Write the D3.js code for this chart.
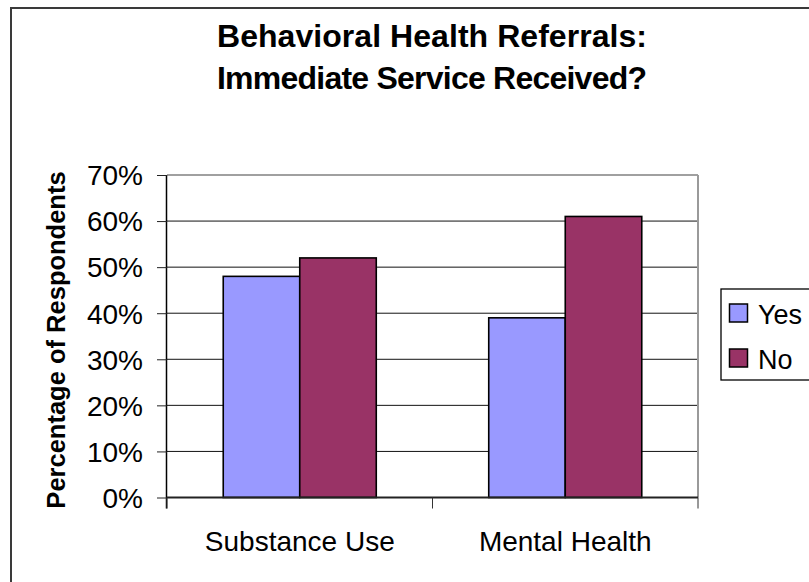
<!DOCTYPE html>
<html>
<head>
<meta charset="utf-8">
<script src="https://cdn.jsdelivr.net/npm/d3@7/dist/d3.min.js"></script>
<style>
  html, body { margin: 0; padding: 0; background: #fff; }
  svg { display: block; font-family: "Liberation Sans", Arial, sans-serif; }
</style>
</head>
<body>
<svg id="chart" width="809" height="582"></svg>
<script>
// Behavioral health referrals: share of respondents who received immediate service
const categories = ["Substance Use", "Mental Health"];
const seriesNames = ["Yes", "No"];
const yesValues = [48, 39];
const noValues = [52, 61];
const yTickValues = [0, 10, 20, 30, 40, 50, 60, 70];
const titleLines = ["Behavioral Health Referrals:", "Immediate Service Received?"];
const yAxisTitle = "Percentage of Respondents";

const colors = { Yes: "#9999FF", No: "#993366" };
const seriesValues = { Yes: yesValues, No: noValues };

const svg = d3.select("#chart");

// chart frame (right and bottom edges run past the visible area)
svg.append("rect")
  .attr("x", 11).attr("y", 8)
  .attr("width", 820).attr("height", 600)
  .attr("fill", "#fff")
  .attr("stroke", "#3a3a3a").attr("stroke-width", 2);

const plot = { left: 167, right: 698, top: 175, bottom: 497.5 };

const y = d3.scaleLinear().domain([0, 70]).range([plot.bottom, plot.top]);
const x0 = d3.scaleBand().domain(categories).range([plot.left, plot.right]).padding(0);
const x1 = d3.scaleBand().domain(seriesNames).range([0, x0.bandwidth()])
  .paddingInner(0).paddingOuter(0.735);

// gridlines
svg.append("g").selectAll("line")
  .data(yTickValues.filter(v => v > 0 && v < 70))
  .join("line")
  .attr("x1", plot.left).attr("x2", plot.right)
  .attr("y1", d => y(d)).attr("y2", d => y(d))
  .attr("stroke", "#111").attr("stroke-width", 1);

// plot area border: top and right in gray
svg.append("line")
  .attr("x1", plot.left).attr("x2", plot.right)
  .attr("y1", plot.top).attr("y2", plot.top)
  .attr("stroke", "#808080").attr("stroke-width", 1.5);
svg.append("line")
  .attr("x1", plot.right).attr("x2", plot.right)
  .attr("y1", plot.top).attr("y2", plot.bottom)
  .attr("stroke", "#9a9a9a").attr("stroke-width", 2);

// bars
const rows = [];
categories.forEach((c, i) => seriesNames.forEach(s => rows.push({ cat: c, series: s, value: seriesValues[s][i] })));
svg.append("g").selectAll("rect")
  .data(rows)
  .join("rect")
  .attr("x", d => x0(d.cat) + x1(d.series))
  .attr("y", d => y(d.value))
  .attr("width", x1.bandwidth())
  .attr("height", d => y(0) - y(d.value))
  .attr("fill", d => colors[d.series])
  .attr("stroke", "#000").attr("stroke-width", 1.6);

// y axis
const yAxis = d3.axisLeft(y).tickValues(yTickValues).tickSize(10).tickPadding(14)
  .tickFormat(d => d + "%");
const gy = svg.append("g").attr("transform", `translate(${plot.left},0)`).call(yAxis);
gy.select(".domain").attr("d", `M-0.5,${plot.top}V${plot.bottom + 11}`).attr("stroke", "#000").attr("stroke-width", 1.5);
gy.selectAll(".tick line").attr("stroke", "#222");
gy.selectAll(".tick text")
  .attr("font-size", 28).attr("fill", "#000")
  .attr("font-family", "'Liberation Sans', Arial, sans-serif")
  .attr("dy", "0.35em");

// x axis
const xAxis = d3.axisBottom(x0).tickSize(0).tickPadding(34);
const gx = svg.append("g").attr("transform", `translate(0,${plot.bottom})`).call(xAxis);
gx.select(".domain").attr("stroke", "#222").attr("stroke-width", 2).attr("d", `M${plot.left},0H${plot.right}`);
gx.selectAll(".tick text")
  .attr("font-size", 28).attr("fill", "#000")
  .attr("font-family", "'Liberation Sans', Arial, sans-serif")
  .attr("dy", "0.71em");
// category separator ticks
const sepTicks = [plot.left, x0(categories[1]), plot.right];
svg.append("g").selectAll("line")
  .data(sepTicks)
  .join("line")
  .attr("x1", d => d).attr("x2", d => d)
  .attr("y1", plot.bottom).attr("y2", plot.bottom + 11)
  .attr("stroke", "#333").attr("stroke-width", 1);

// title, both lines set to the same width
svg.append("g").selectAll("text")
  .data(titleLines)
  .join("text")
  .attr("x", 432).attr("y", (d, i) => 47 + i * 41.5)
  .attr("text-anchor", "middle")
  .attr("font-size", 32).attr("font-weight", "bold")
  .attr("textLength", 430).attr("lengthAdjust", "spacing")
  .text(d => d);

// y axis title
svg.append("text")
  .attr("transform", "translate(65,340) rotate(-90)")
  .attr("text-anchor", "middle")
  .attr("font-size", 25.5).attr("font-weight", "bold")
  .text(yAxisTitle);

// legend
const legend = svg.append("g");
legend.append("rect")
  .attr("x", 721).attr("y", 289).attr("width", 100).attr("height", 91)
  .attr("fill", "#fff").attr("stroke", "#000").attr("stroke-width", 1.3);
const items = legend.selectAll("g.item")
  .data(seriesNames)
  .join("g").attr("class", "item")
  .attr("transform", (d, i) => `translate(0,${i * 45})`);
items.append("rect")
  .attr("x", 729.5).attr("y", 304).attr("width", 18).attr("height", 18)
  .attr("fill", d => colors[d]).attr("stroke", "#000").attr("stroke-width", 1.5);
items.append("text")
  .attr("x", 758).attr("y", 323.5)
  .attr("font-size", 27)
  .text(d => d);
</script>
</body>
</html>
